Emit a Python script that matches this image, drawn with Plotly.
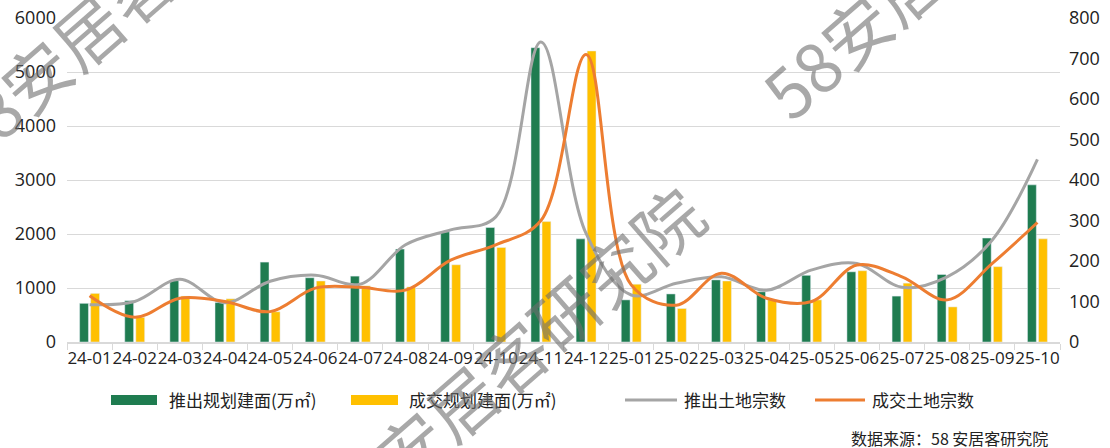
import plotly.graph_objects as go

# data
months = ["24-01", "24-02", "24-03", "24-04", "24-05", "24-06", "24-07", "24-08",
          "24-09", "24-10", "24-11", "24-12", "25-01", "25-02", "25-03", "25-04",
          "25-05", "25-06", "25-07", "25-08", "25-09", "25-10"]
push_area = [716, 765, 1135, 730, 1480, 1190, 1220, 1720, 2040, 2120, 5450, 1910,
             780, 890, 1150, 930, 1235, 1300, 850, 1250, 1925, 2910]
deal_area = [900, 457, 850, 800, 560, 1130, 1040, 1020, 1430, 1750, 2230, 5390,
             1070, 620, 1130, 780, 780, 1320, 1090, 650, 1395, 1910]
push_land = [92, 100, 155, 97, 150, 165, 143, 240, 277, 309, 741, 268,
             116, 145, 161, 128, 178, 194, 135, 161, 252, 451]
deal_land = [114, 61, 108, 100, 75, 133, 135, 128, 202, 240, 300, 710,
             141, 91, 170, 108, 100, 190, 161, 104, 194, 295]

GREEN = "#1f7c50"
YELLOW = "#ffc000"
GRAY = "#a5a5a5"
ORANGE = "#ed7d31"
NUM_FONT = "Open Sans, Noto Sans CJK SC, sans-serif"
CJK_FONT = "Noto Sans CJK SC, sans-serif"

fig = go.Figure()
fig.add_trace(go.Bar(x=months, y=push_area, name="推出规划建面(万㎡)", marker_color=GREEN))
fig.add_trace(go.Bar(x=months, y=deal_area, name="成交规划建面(万㎡)", marker_color=YELLOW))
fig.add_trace(go.Scatter(x=months, y=push_land, name="推出土地宗数", yaxis="y2", mode="lines",
                         line=dict(color=GRAY, width=3, shape="spline", smoothing=1)))
fig.add_trace(go.Scatter(x=months, y=deal_land, name="成交土地宗数", yaxis="y2", mode="lines",
                         line=dict(color=ORANGE, width=3, shape="spline", smoothing=1)))

fig.update_layout(
    width=1110, height=448,
    margin=dict(l=67, r=50, t=18, b=106),
    paper_bgcolor="white", plot_bgcolor="white",
    barmode="group", bargap=0.51, bargroupgap=0.2,
    showlegend=False,
    font=dict(family=NUM_FONT, color="#222222"),
    xaxis=dict(type="category", showgrid=False, showline=True, linecolor="#d9d9d9", linewidth=1.5,
               ticks="outside", tickson="boundaries", ticklen=6, tickcolor="#d9d9d9",
               tickangle=0, automargin=False,
               tickfont=dict(size=17, color="#222222")),
    yaxis=dict(range=[0, 6000], dtick=1000, showgrid=True, gridcolor="#d9d9d9", gridwidth=1,
               zeroline=False, ticks="", ticklabelstandoff=10, automargin=False,
               tickfont=dict(size=18, color="#222222")),
    yaxis2=dict(range=[0, 800], dtick=100, overlaying="y", side="right", showgrid=False,
                zeroline=False, ticks="", ticklabelstandoff=8, automargin=False,
                tickfont=dict(size=18, color="#222222")),
)

# hand-made legend under the chart
W, H = 993.0, 324.0
def px(xp):
    return (xp - 67) / W
def py(yp):
    return (342 - yp) / H

legend = [
    ("rect", GREEN, 111, 157, "推出规划建面(万㎡)", 167),
    ("rect", YELLOW, 351, 398, "成交规划建面(万㎡)", 407),
    ("line", GRAY, 625, 677, "推出土地宗数", 682),
    ("line", ORANGE, 815, 865, "成交土地宗数", 870),
]
for kind, color, x0, x1, label, tx in legend:
    if kind == "rect":
        fig.add_shape(type="rect", xref="paper", yref="paper", x0=px(x0), x1=px(x1),
                      y0=py(405), y1=py(395), fillcolor=color, line_width=0)
    else:
        fig.add_shape(type="line", xref="paper", yref="paper", x0=px(x0), x1=px(x1),
                      y0=py(400), y1=py(400), line=dict(color=color, width=3))
    fig.add_annotation(text=label, xref="paper", yref="paper", x=px(tx), y=py(400),
                       xanchor="left", yanchor="middle", showarrow=False,
                       font=dict(family=CJK_FONT, size=17, color="#222222"))

fig.add_annotation(text="数据来源：58 安居客研究院", xref="paper", yref="paper",
                   x=px(1050), y=py(438), xanchor="right", yanchor="middle", showarrow=False,
                   font=dict(family=CJK_FONT, size=16, color="#222222"))

# watermarks
for cx, cy in [(134, -12), (954, -57), (508, 359)]:
    fig.add_annotation(text="58安居客研究院", xref="paper", yref="paper", x=px(cx), y=py(cy),
                       xanchor="center", yanchor="middle", showarrow=False, textangle=-41,
                       font=dict(family=CJK_FONT, size=68, color="rgba(110,110,110,0.6)"))

# drop the default 8px body margin so the figure sits at the page corner
fig.write_html("out.html", config={"displayModeBar": False},
               post_script="document.body.style.margin='0';")
